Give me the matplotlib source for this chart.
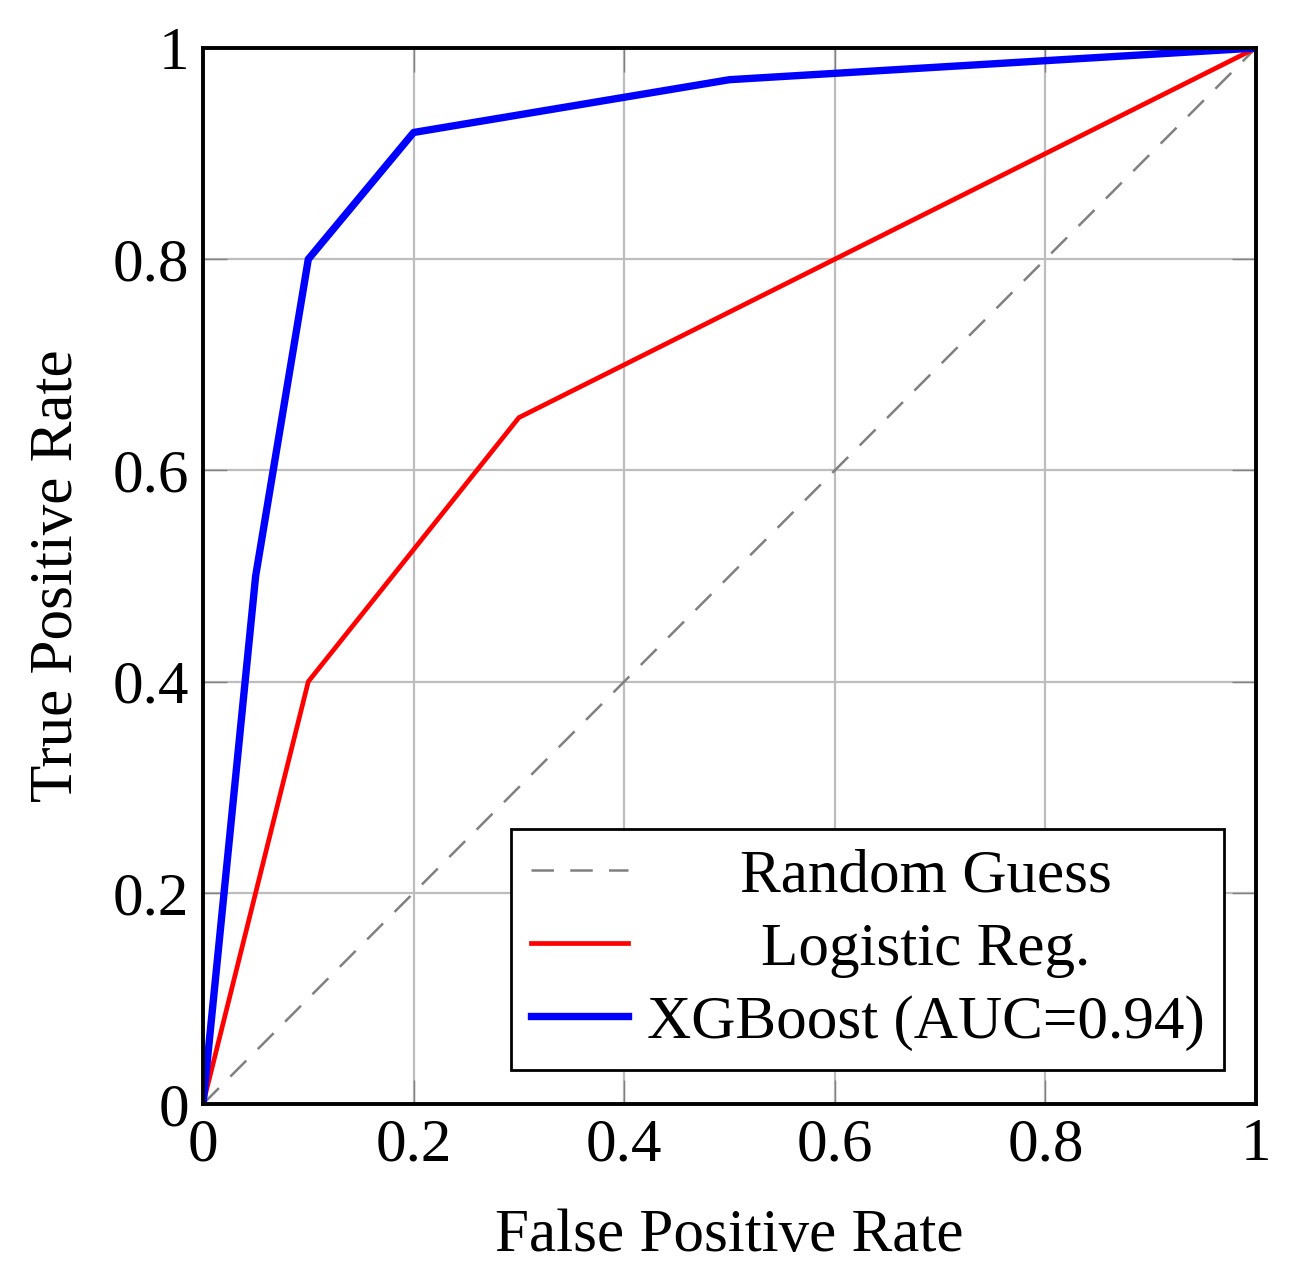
import matplotlib
matplotlib.use("Agg")
import matplotlib.pyplot as plt
from matplotlib.transforms import Affine2D

plt.rcParams['font.family'] = ['Liberation Serif', 'DejaVu Serif']

random_x = [0, 1]
random_y = [0, 1]
lr_x = [0, 0.1, 0.3, 1]
lr_y = [0, 0.4, 0.65, 1]
xgb_x = [0, 0.05, 0.1, 0.2, 0.5, 1]
xgb_y = [0, 0.5, 0.8, 0.92, 0.97, 1]
ticks = [0, 0.2, 0.4, 0.6, 0.8, 1]
tick_labels = ["0", "0.2", "0.4", "0.6", "0.8", "1"]
labels = ["Random Guess", "Logistic Reg.", "XGBoost (AUC=0.94)"]

FS = 44

fig = plt.figure(figsize=(12.9, 12.77), dpi=100)
ax = fig.add_axes([203/1290, 1-1104/1277, 1053/1290, 1056/1277])

ax.plot(random_x, random_y, color='#808080', lw=1.8, dashes=(9, 6.5), label=labels[0], zorder=3)
ax.plot(lr_x, lr_y, color='#ff0000', lw=3.4, label=labels[1], zorder=4)
ax.plot(xgb_x, xgb_y, color='#0000ff', lw=5.3, label=labels[2], zorder=5)

ax.set_xlim(0, 1)
ax.set_ylim(0, 1)
ax.set_xticks(ticks)
ax.set_yticks(ticks)
ax.set_xticklabels(tick_labels)
ax.set_yticklabels(tick_labels)
ax.grid(True, color='#bdbdbd', lw=1.6, zorder=0)
ax.set_axisbelow(True)
ax.tick_params(direction='in', length=17, width=1, color='#808080',
               top=True, right=True, labelsize=FS, pad=10)
for s in ax.spines.values():
    s.set_linewidth(2.8)
    s.set_zorder(10)

ax.set_xlabel("False Positive Rate", fontsize=FS, labelpad=25)
ax.set_ylabel("True Positive Rate", fontsize=FS, labelpad=20)

leg = ax.legend(loc='lower right', bbox_to_anchor=(0.9696, 0.032), borderaxespad=0,
                fontsize=FS, fancybox=False, edgecolor='black', framealpha=1,
                handlelength=1.6, handletextpad=0.3, labelspacing=0.28,
                borderpad=0.32)
leg.get_frame().set_linewidth(2)
leg.set_zorder(20)

fig.canvas.draw()
r = fig.canvas.get_renderer()
texts = leg.get_texts()
widths = [t.get_window_extent(r).width for t in texts]
mw = max(widths)
for t, w in zip(texts, widths):
    t.set_transform(t.get_transform() + Affine2D().translate((mw - w) / 2, 0))

fig.savefig("out.png", dpi=100)
